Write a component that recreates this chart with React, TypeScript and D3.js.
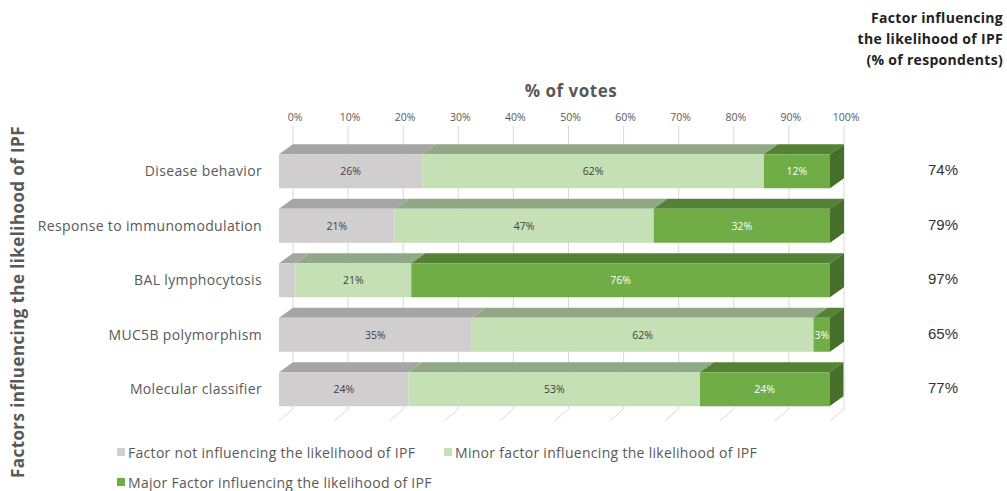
import React from "react";
import * as d3 from "d3";

const categories = [
  "Disease behavior",
  "Response to immunomodulation",
  "BAL lymphocytosis",
  "MUC5B polymorphism",
  "Molecular classifier",
];
const notInfluencing = [26, 21, 3, 35, 23.5];
const minorFactor = [62, 47, 21, 62, 52.9];
const majorFactor = [12, 32, 76, 3, 23.5];
const respondents = ["74%", "79%", "97%", "65%", "77%"];
const showNotLabel = [true, true, false, true, true];
const xTicks = [0, 10, 20, 30, 40, 50, 60, 70, 80, 90, 100];
const seriesNames = [
  "Factor not influencing the likelihood of IPF",
  "Minor factor influencing the likelihood of IPF",
  "Major Factor influencing the likelihood of IPF",
];

const W = 1007;
const H = 491;
const DX = 14;
const DY = 10;
const FONT = "'Open Sans', 'Liberation Sans', sans-serif";

const styles = [
  { front: "#d0cece", top: "#a5a5a5", side: "#8f8f8f", text: "#404040" },
  { front: "#c5e0b4", top: "#91a886", side: "#7f9a72", text: "#404040" },
  { front: "#70ad47", top: "#548235", side: "#466f2c", text: "#ffffff" },
];

export default function App() {
  const x = d3.scaleLinear().domain([0, 100]).range([279, 830]);
  const y = d3
    .scaleBand<string>()
    .domain(categories)
    .range([144, 416.5])
    .paddingInner(0.376)
    .paddingOuter(0.188);
  const bw = y.bandwidth();
  const fmt = (v: number) => d3.format(".0f")(v) + "%";
  const series = [notInfluencing, minorFactor, majorFactor];
  const gridTop = 126;
  const gridBottom = 409;

  return (
    <svg width={W} height={H} style={{ position: "absolute", left: 0, top: 0, background: "#fff" }}>
      <rect x={0} y={0} width={W} height={H} fill="#fff" />
      {xTicks.map((t) => (
        <g key={t}>
          <line x1={x(t) + DX} x2={x(t) + DX} y1={gridTop} y2={gridBottom} stroke="#d9d9d9" strokeWidth={1} />
          <line x1={x(t) + DX} x2={x(t)} y1={gridBottom} y2={gridBottom + DY + 2} stroke="#d9d9d9" strokeWidth={1} />
          <text
            x={x(t) + DX + 2}
            y={121}
            textAnchor="middle"
            fontSize={10.5}
            fill="#595959"
            fontFamily={FONT}
          >
            {t + "%"}
          </text>
        </g>
      ))}
      <text x={571} y={97} textAnchor="middle" fontSize={17} letterSpacing={0.5} fontWeight="bold" fill="#595959" fontFamily={FONT}>
        % of votes
      </text>
      {categories.map((c, i) => {
        const yt = y(c)!;
        let acc = 0;
        const segs = series.map((s, k) => {
          const v0 = acc;
          acc += s[i];
          return { k, v0, v1: acc, v: s[i] };
        });
        const last = segs[segs.length - 1];
        return (
          <g key={c}>
            {segs.map((sg) => {
              const x0 = x(sg.v0);
              const x1 = x(sg.v1);
              const st = styles[sg.k];
              return (
                <g key={sg.k}>
                  <polygon
                    points={`${x0},${yt} ${x0 + DX},${yt - DY} ${x1 + DX},${yt - DY} ${x1},${yt}`}
                    fill={st.top}
                  />
                  <rect x={x0} y={yt} width={Math.max(0, x1 - x0)} height={bw} fill={st.front} />
                </g>
              );
            })}
            <polygon
              points={`${x(last.v1)},${yt} ${x(last.v1) + DX},${yt - DY} ${x(last.v1) + DX},${yt + bw - DY} ${x(last.v1)},${yt + bw}`}
              fill={styles[last.k].side}
            />
            {segs.map((sg) =>
              sg.k === 0 && !showNotLabel[i] ? null : (
                <text
                  key={"l" + sg.k}
                  x={(x(sg.v0) + x(sg.v1)) / 2}
                  y={yt + bw / 2 + 4}
                  textAnchor="middle"
                  fontSize={10.5}
                  fill={styles[sg.k].text}
                  fontFamily={FONT}
                >
                  {fmt(sg.v)}
                </text>
              )
            )}
            <text
              x={262}
              y={yt + bw / 2 + 5}
              textAnchor="end"
              fontSize={14}
              letterSpacing={0.35}
              fill="#595959"
              fontFamily={FONT}
            >
              {c}
            </text>
            <text
              x={943}
              y={yt + bw / 2 + 4}
              textAnchor="middle"
              fontSize={15}
              fill="#333"
              fontFamily="Arial, 'Liberation Sans', sans-serif"
            >
              {respondents[i]}
            </text>
          </g>
        );
      })}
      {["Factor influencing", "the likelihood of IPF", "(% of respondents)"].map((t, i) => (
        <text
          key={t}
          x={1003}
          y={23 + i * 21}
          textAnchor="end"
          fontSize={14}
          letterSpacing={0.3}
          fontWeight="bold"
          fill="#222"
          fontFamily={FONT}
        >
          {t}
        </text>
      ))}
      <text
        transform="translate(24,302) rotate(-90)"
        textAnchor="middle"
        fontSize={17}
        letterSpacing={0.4}
        fontWeight="bold"
        fill="#595959"
        fontFamily={FONT}
      >
        Factors influencing the likelihood of IPF
      </text>
      {seriesNames.map((n, k) => {
        const lx = k === 1 ? 444 : 117;
        const ly = k === 2 ? 488 : 458;
        return (
          <g key={n}>
            <rect x={lx} y={ly - 10} width={8} height={8} fill={styles[k].front} />
            <text x={lx + 11} y={ly} fontSize={14} letterSpacing={0.3} fill="#595959" fontFamily={FONT}>
              {n}
            </text>
          </g>
        );
      })}
    </svg>
  );
}
